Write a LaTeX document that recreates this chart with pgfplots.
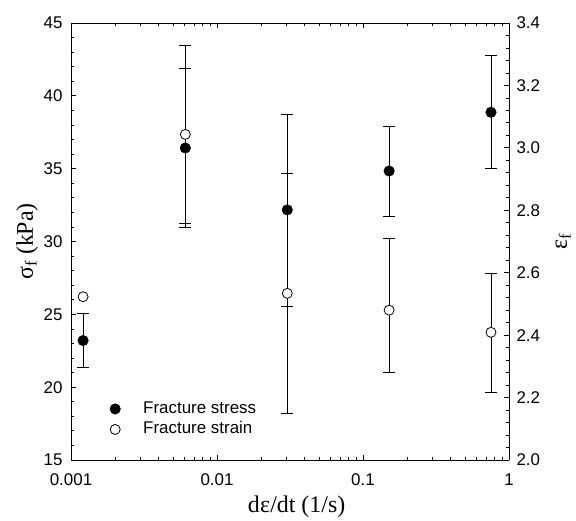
\documentclass[border=0pt]{standalone}
\usepackage{pgfplots}
\pgfplotsset{compat=1.18}
\usepackage{fontspec}
\setmainfont{Liberation Serif}
\newfontfamily\arial{Liberation Sans}

\begin{document}
\begin{tikzpicture}
\begin{axis}[name=main,
  scale only axis, width=438bp, height=437bp,
  xmode=log, xmin=0.001, xmax=1,
  tick align=inside,
  major tick length=5bp, minor tick length=3bp,
  every tick/.style={black, line width=0.8bp},
  axis line style={line width=0.9bp},
  /pgf/number format/assume math mode=true,
  tick label style={font=\arial\fontsize{17}{19}\selectfont},
  xticklabel style={yshift=-10bp},
  yticklabel style={xshift=-5bp},
  ymin=15, ymax=45,
  axis y line*=left,
  ytick={15,20,...,45}, minor y tick num=4,
  xtick={0.001,0.01,0.1,1}, xticklabels={0.001,0.01,0.1,1},
  xlabel={d\kern0.5pt ε/dt (1/s)},
  xlabel style={font=\fontsize{24}{26}\selectfont, at={(axis description cs:0.515,-0.119)}, anchor=base},
  ylabel={σ\textsubscript{f} (kPa)},
  ylabel style={font=\fontsize{24}{26}\selectfont, at={(axis description cs:-0.0868,0.5)}, anchor=base},
  legend style={draw=none, fill=none, at={(axis description cs:0.0868,0.135)}, anchor=north west,
    inner sep=0pt, font=\arial\fontsize{17}{19}\selectfont, row sep=5bp,
    nodes={inner sep=0pt, text height=12bp, text depth=3.5bp}},
  legend cell align=left,
  legend image code/.code={\path[draw=none, fill=none] (-6bp,0bp) -- (28bp,0bp); \path[#1, draw=none] plot[mark=*] coordinates {(0bp,0bp)};},
]
\addplot[only marks, mark=*, mark size=5.2bp, mark options={fill=black, draw=black, line width=0.6bp},
  error bars/y dir=both, error bars/y explicit,
  error bars/error bar style={line width=0.9bp, black},
  error bars/error mark options={rotate=90, mark size=6bp, line width=0.9bp, black}]
  table[x=x, y=y, y error plus=ep, y error minus=em] {
x       y      ep    em
0.00121 23.20  1.87  1.86
0.00607 36.42  5.47  5.47
0.0303  32.17  6.58  6.64
0.151   34.84  3.09  3.11
0.753   38.87  3.87  3.87
};
\addlegendentry{Fracture stress}
\addlegendimage{only marks, mark=*, mark size=5bp, mark options={fill=white, draw=black, line width=0.8bp}}
\addlegendentry{Fracture strain}
\end{axis}
\begin{axis}[
  scale only axis, width=438bp, height=437bp,
  xmode=log, xmin=0.001, xmax=1,
  tick align=inside,
  major tick length=5bp, minor tick length=3bp,
  every tick/.style={black, line width=0.8bp},
  axis line style={line width=0.9bp},
  /pgf/number format/assume math mode=true,
  tick label style={font=\arial\fontsize{17}{19}\selectfont},
  ymin=2.0, ymax=3.4,
  axis y line*=right, axis x line=none,
  ytick={2.0,2.2,...,3.4}, minor y tick num=4,
  yticklabel style={xshift=4bp, /pgf/number format/.cd, fixed, fixed zerofill, precision=1},
  ylabel={ε\textsubscript{f}},
  ylabel style={font=\fontsize{24}{26}\selectfont, at={(axis description cs:1.1324,0.5)}, anchor=base},
]
\addplot[only marks, mark=*, mark size=5bp, mark options={fill=white, draw=black, line width=0.8bp},
  error bars/y dir=both, error bars/y explicit,
  error bars/error bar style={line width=0.9bp, black},
  error bars/error mark options={rotate=90, mark size=6bp, line width=0.9bp, black}]
  table[x=x, y=y, y error plus=ep, y error minus=em] {
x       y      ep     em
0.00607 3.043  0.285  0.286
0.0303  2.534  0.383  0.386
0.151   2.480  0.229  0.201
0.753   2.409  0.190  0.194
};
\addplot[only marks, mark=*, mark size=5bp, mark options={fill=white, draw=black, line width=0.8bp}]
  table[x=x, y=y] {
x       y
0.00121 2.523
};
\end{axis}
\path (main.south west) ++(-71bp,-57bp) rectangle ++(576bp,517bp);
\end{tikzpicture}
\end{document}
